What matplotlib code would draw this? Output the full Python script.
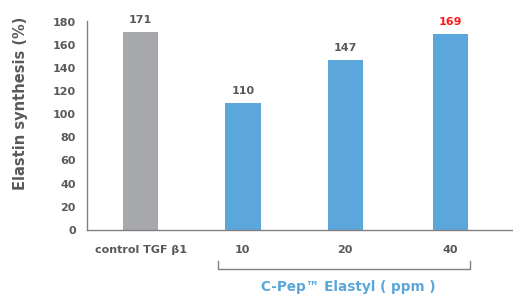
import matplotlib
matplotlib.use("Agg")
import matplotlib.pyplot as plt
from matplotlib.lines import Line2D

categories = ["control TGF β1", "10", "20", "40"]
values = [171, 110, 147, 169]
bar_colors = ["#A7A8AB", "#5BA7DB", "#5BA7DB", "#5BA7DB"]
label_colors = ["#595959", "#595959", "#595959", "#FF1A1A"]
yticks = [0, 20, 40, 60, 80, 100, 120, 140, 160, 180]
group_label = "C-Pep™ Elastyl ( ppm )"

plt.rcParams['font.family'] = ['DejaVu Sans']
fig = plt.figure(figsize=(5.13, 2.97), dpi=100)
W, H = 513, 297
ax = fig.add_axes([87 / W, 1 - 230 / H, (513 - 87) / W, (230 - 21.5) / H])

x = [0, 1, 2, 3.03]
ax.bar(x, values, width=0.345, color=bar_colors)
for xi, v, c in zip(x, values, label_colors):
    ax.text(xi, v + 6, str(v), ha='center', va='bottom', fontsize=8,
            fontweight='bold', color=c)

ax.set_xlim(-0.523, 3.64)
ax.set_ylim(0, 180)
ax.set_yticks(yticks)
ax.set_yticklabels([str(t) for t in yticks], fontsize=8, fontweight='bold', color='#595959')
ax.set_xticks(x)
ax.set_xticklabels(categories, fontsize=8, fontweight='bold', color='#595959')
ax.tick_params(axis='both', length=0, pad=8)
ax.tick_params(axis='x', pad=11)
for s in ['top', 'right']:
    ax.spines[s].set_visible(False)
for s in ['left', 'bottom']:
    ax.spines[s].set_color('#808080')
    ax.spines[s].set_linewidth(1.0)
ax.set_ylabel("Elastin synthesis (%)", fontsize=10.5, fontweight='bold', color='#595959')
ax.yaxis.set_label_coords(-(87 - 28) / (513 - 87), (230 - 103) / (230 - 21.5))

# bracket under dose groups
bx0, bx1, by, byt = 218 / W, 470 / W, 1 - 269 / H, 1 - 261 / H
fig.add_artist(Line2D([bx0, bx0, bx1, bx1], [byt, by, by, byt], color='#808080', lw=1.0,
                      transform=fig.transFigure))
fig.text(348 / W, 1 - 287 / H, group_label, ha='center', va='center', fontsize=9.8,
         fontweight='bold', color='#5BA7DB')

fig.savefig("out.png", dpi=100)
